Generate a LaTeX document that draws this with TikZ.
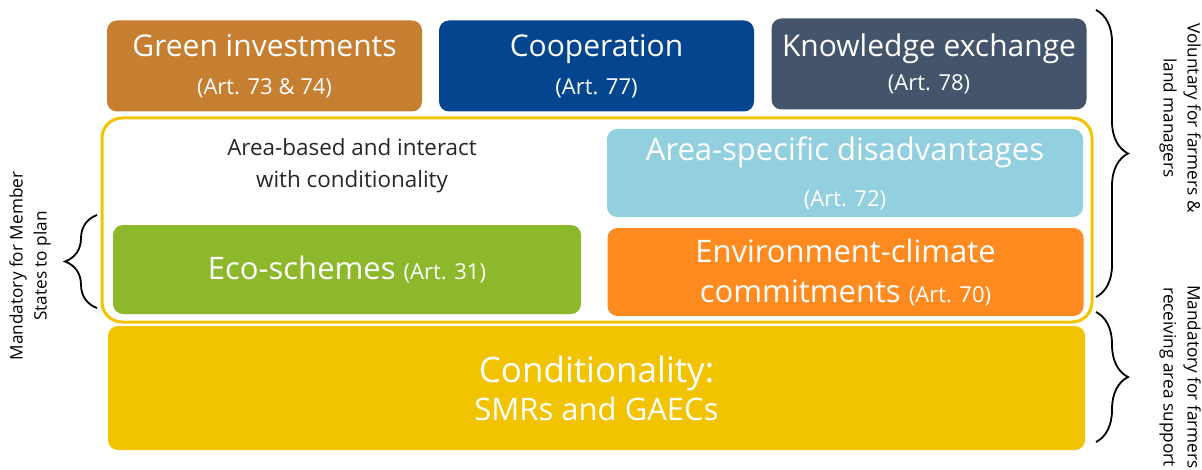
\documentclass[tikz,border=0pt]{standalone}
\usepackage{fontspec}
\setmainfont{Open Sans}
\usepackage{tikz}
\usetikzlibrary{positioning,decorations.pathreplacing}
\usepackage{xcolor}

\definecolor{invcol}{HTML}{C67E31}
\definecolor{coopcol}{HTML}{03458F}
\definecolor{knowcol}{HTML}{44546A}
\definecolor{ancol}{HTML}{92D0DF}
\definecolor{ecocol}{HTML}{8DB82B}
\definecolor{envcol}{HTML}{FF8A20}
\definecolor{condcol}{HTML}{F2C300}

\newcommand{\artsz}{\fontsize{11}{13}\selectfont}

\begin{document}
\begin{tikzpicture}[
  x=0.5pt, y=-0.5pt,
  measure/.style={rounded corners=5pt, inner sep=0pt, align=center, text=white,
                  font=\fontsize{15.5}{18}\selectfont},
  topbox/.style={measure, minimum width=157.5pt, minimum height=45.5pt,
                 font=\fontsize{15}{18}\selectfont},
  midbox/.style={measure, minimum width=238pt, minimum height=44pt},
  frame/.style={draw=condcol, line width=1.5pt, rounded corners=10pt,
                minimum width=495pt, minimum height=102pt, inner sep=0pt},
  brc/.style={decorate, decoration={brace, amplitude=16pt}, line width=0.9pt},
  side/.style={align=center, font=\fontsize{8.6}{12}\selectfont, inner sep=0pt},
]
  \path[use as bounding box] (0,0) rectangle (1202,470);

  %=================== voluntary measures ===================
  \node[topbox, fill=invcol]  (inv)  at (264.5,66) {Green investments\\[1pt]{\artsz (Art. 73 \& 74)}};
  \node[topbox, fill=coopcol] (coop) at (596.5,66) {Cooperation\\[1pt]{\artsz (Art. 77)}};
  \node[topbox, fill=knowcol] (know) at (929,64)   {Knowledge exchange\\[-1pt]{\artsz (Art. 78)}};

  %=================== area-based block ===================
  \node[frame] (area) at (597,220) {};
  \node[font=\fontsize{11.2}{16}\selectfont, align=center, inner sep=0pt, text=black!85] (note) at (352,166)
       {Area-based and interact\\with conditionality};
  \node[midbox, fill=ancol] (anc) at (845,173)
       {Area-specific disadvantages\\[5pt]{\artsz (Art. 72)}};
  \node[measure, fill=ecocol, minimum width=234pt, minimum height=44.5pt] (eco) at (347,269.5)
       {Eco-schemes {\artsz (Art. 31)}};
  \node[midbox, fill=envcol] (env) at (845.5,272)
       {Environment-climate\\[2pt]commitments {\artsz (Art. 70)}};

  %=================== conditionality ===================
  \node[measure, fill=condcol, minimum width=488.5pt, minimum height=62pt] (cond) at (596.5,388)
       {{\fontsize{17.5}{21}\selectfont Conditionality:}\\[1pt]{\fontsize{15.5}{18}\selectfont SMRs and GAECs}};

  %=================== braces + labels ===================
  \coordinate (vtop) at (1096,10);
  \coordinate (vbot) at (1096,297);
  \coordinate (mtop) at (1096,312);
  \coordinate (mbot) at (1096,442);
  \coordinate (ptop) at (97,215);
  \coordinate (pbot) at (97,308);
  \draw[brc] (vtop) -- (vbot);
  \draw[brc] (mtop) -- (mbot);
  \draw[brc] (pbot) -- (ptop);

  \node[side, rotate=-90] (vol) at (1180,118) {Voluntary for farmers \&\\land managers};
  \node[side, rotate=-90] (man) at (1180,377) {Mandatory for farmers\\receiving area support};
  \node[side, rotate=90]  (msp) at (30,266)   {Mandatory for Member\\States to plan};
\end{tikzpicture}
\end{document}
